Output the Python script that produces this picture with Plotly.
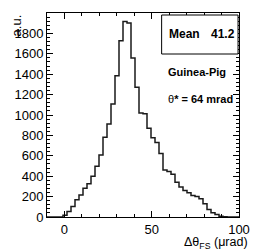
import plotly.graph_objects as go

# Histogram definition (48 bins over [-10, 100])
bin_lo = -10.0
bin_hi = 100.0
n_bins = 48
counts = [0, 0, 0, 0, 18, 55, 103, 169, 215, 281, 327, 399, 497, 609, 783, 911,
          1108, 1384, 1729, 1916, 1903, 1558, 1273, 1020, 1012, 869, 777, 731,
          623, 460, 445, 420, 340, 294, 261, 238, 212, 202, 179, 130, 74, 41,
          25, 8, 3, 0, 0, 0]
x_ticks = [0, 50, 100]
y_ticks = [0, 200, 400, 600, 800, 1000, 1200, 1400, 1600, 1800]
mean_label = "Mean"
mean_value = "41.2"
generator_label = "Guinea-Pig"
angle_symbol = "θ"
angle_rest = "* = 64 mrad"
x_title = "Δθ<sub>FS</sub> (μrad)"
y_title = "a.u."

w = (bin_hi - bin_lo) / n_bins
edges = [bin_lo + i * w for i in range(n_bins + 1)]
ys = counts + [counts[-1]]

FONT = "Liberation Sans, Arial, Helvetica, sans-serif"

fig = go.Figure()
fig.add_trace(go.Scatter(x=edges, y=ys, mode="lines", line_shape="hv",
                         line=dict(color="#1a1a1a", width=1.5),
                         hoverinfo="skip", showlegend=False))

L, R, T, B = 47, 14, 13, 35
W, H = 262, 252
pw, ph = W - L - R, H - T - B

def px(x):
    return (x - L) / pw

def py(y):
    return (H - B - y) / ph

fig.update_layout(
    width=W, height=H,
    margin=dict(l=L, r=R, t=T, b=B, pad=0),
    paper_bgcolor="white", plot_bgcolor="white",
    font=dict(family=FONT, size=13, color="black"),
    xaxis=dict(range=[bin_lo, bin_hi], tickvals=x_ticks, ticktext=[str(v) for v in x_ticks],
               ticks="inside", ticklen=6, tickwidth=1, tickcolor="black",
               showline=True, linecolor="black", linewidth=1, mirror="allticks",
               showgrid=False, zeroline=False,
               minor=dict(dtick=10, tick0=0, ticks="inside", ticklen=3, tickcolor="black", showgrid=False),
               tickfont=dict(size=13)),
    yaxis=dict(range=[0, 2000], tickvals=y_ticks, ticktext=[str(v) for v in y_ticks],
               ticks="inside", ticklen=6, tickwidth=1, tickcolor="black",
               showline=True, linecolor="black", linewidth=1, mirror="allticks",
               showgrid=False, zeroline=False,
               minor=dict(dtick=40, tick0=0, ticks="inside", ticklen=3, tickcolor="black", showgrid=False),
               tickfont=dict(size=13)),
)

# stats box
fig.add_shape(type="rect", xref="paper", yref="paper",
              x0=px(167), x1=px(247), y0=py(54), y1=py(15),
              line=dict(color="black", width=1), fillcolor="white")

fig.add_annotation(xref="paper", yref="paper", x=px(173), y=py(34), text="<b>" + mean_label + "</b>",
                   showarrow=False, xanchor="left", yanchor="middle", font=dict(size=12))
fig.add_annotation(xref="paper", yref="paper", x=px(246), y=py(34), text="<b>" + mean_value + "</b>",
                   showarrow=False, xanchor="right", yanchor="middle", font=dict(size=12))
fig.add_annotation(xref="paper", yref="paper", x=px(172), y=py(72), text="<b>" + generator_label + "</b>",
                   showarrow=False, xanchor="left", yanchor="middle", font=dict(size=11))
fig.add_annotation(xref="paper", yref="paper", x=px(172), y=py(99),
                   text=angle_symbol + "<b>" + angle_rest + "</b>",
                   showarrow=False, xanchor="left", yanchor="middle", font=dict(size=11))

# axis titles
fig.add_annotation(xref="paper", yref="paper", x=px(260), y=py(243), text=x_title,
                   showarrow=False, xanchor="right", yanchor="middle", font=dict(size=12.5))
fig.add_annotation(xref="paper", yref="paper", x=px(15), y=py(25), text=y_title, textangle=-90,
                   showarrow=False, xanchor="center", yanchor="middle", font=dict(size=13))

fig.write_html("out.html", post_script="document.body.style.margin='0';",
               config={"displayModeBar": False})
